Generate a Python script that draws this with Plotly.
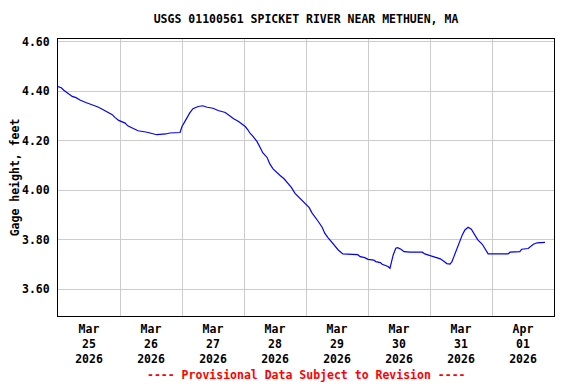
import plotly.graph_objects as go

times = [
    "2026-03-25 00:00", "2026-03-25 01:15", "2026-03-25 02:15", "2026-03-25 04:00",
    "2026-03-25 05:30", "2026-03-25 07:00", "2026-03-25 08:30", "2026-03-25 10:45",
    "2026-03-25 13:30", "2026-03-25 15:30", "2026-03-25 17:30", "2026-03-25 19:00",
    "2026-03-25 21:00", "2026-03-25 22:00", "2026-03-25 23:30", "2026-03-26 02:00",
    "2026-03-26 03:00", "2026-03-26 04:45", "2026-03-26 07:00", "2026-03-26 10:30",
    "2026-03-26 12:30", "2026-03-26 14:15", "2026-03-26 17:45", "2026-03-26 19:15",
    "2026-03-26 23:15", "2026-03-27 00:00", "2026-03-27 01:15", "2026-03-27 02:15",
    "2026-03-27 03:00", "2026-03-27 04:15", "2026-03-27 06:15", "2026-03-27 08:00",
    "2026-03-27 09:45", "2026-03-27 12:00", "2026-03-27 14:00", "2026-03-27 16:45",
    "2026-03-27 18:30", "2026-03-27 20:00", "2026-03-27 21:45", "2026-03-27 23:15",
    "2026-03-28 00:30", "2026-03-28 01:30", "2026-03-28 02:15", "2026-03-28 03:30",
    "2026-03-28 05:00", "2026-03-28 06:15", "2026-03-28 07:15", "2026-03-28 09:00",
    "2026-03-28 10:00", "2026-03-28 11:15", "2026-03-28 12:45", "2026-03-28 14:00",
    "2026-03-28 15:30", "2026-03-28 16:45", "2026-03-28 18:15", "2026-03-28 19:45",
    "2026-03-28 21:45", "2026-03-28 23:30", "2026-03-29 01:15", "2026-03-29 02:15",
    "2026-03-29 03:30", "2026-03-29 04:45", "2026-03-29 06:15", "2026-03-29 07:15",
    "2026-03-29 08:30", "2026-03-29 10:00", "2026-03-29 11:15", "2026-03-29 12:30",
    "2026-03-29 14:15", "2026-03-29 20:00", "2026-03-29 21:00", "2026-03-29 22:45",
    "2026-03-30 00:00", "2026-03-30 02:15", "2026-03-30 03:00", "2026-03-30 04:45",
    "2026-03-30 05:30", "2026-03-30 07:45", "2026-03-30 08:30", "2026-03-30 09:00",
    "2026-03-30 09:45", "2026-03-30 10:45", "2026-03-30 11:30", "2026-03-30 12:45",
    "2026-03-30 14:00", "2026-03-30 16:15", "2026-03-30 21:00", "2026-03-30 22:00",
    "2026-03-31 00:00", "2026-03-31 02:00", "2026-03-31 04:00", "2026-03-31 05:30",
    "2026-03-31 06:30", "2026-03-31 07:45", "2026-03-31 08:30", "2026-03-31 09:15",
    "2026-03-31 10:30", "2026-03-31 11:15", "2026-03-31 12:30", "2026-03-31 13:30",
    "2026-03-31 14:45", "2026-03-31 16:00", "2026-03-31 17:00", "2026-03-31 18:30",
    "2026-03-31 20:15", "2026-03-31 21:15", "2026-03-31 22:30", "2026-04-01 06:15",
    "2026-04-01 07:00", "2026-04-01 10:45", "2026-04-01 11:30", "2026-04-01 14:00",
    "2026-04-01 14:45", "2026-04-01 16:00", "2026-04-01 17:30", "2026-04-01 20:30",
]

gage_height = [
    4.42, 4.415, 4.405, 4.39,
    4.38, 4.375, 4.365, 4.355,
    4.345, 4.337, 4.326, 4.317,
    4.306, 4.295, 4.283, 4.272,
    4.261, 4.252, 4.241, 4.235,
    4.23, 4.225, 4.228, 4.232,
    4.234, 4.258, 4.281, 4.30,
    4.313, 4.33, 4.339, 4.342,
    4.336, 4.332, 4.323, 4.315,
    4.30, 4.29, 4.279, 4.268,
    4.258, 4.245, 4.232, 4.218,
    4.198, 4.173, 4.152, 4.132,
    4.107, 4.087, 4.071, 4.06,
    4.047, 4.032, 4.013, 3.988,
    3.968, 3.95, 3.93, 3.91,
    3.894, 3.874, 3.851, 3.827,
    3.809, 3.789, 3.772, 3.759,
    3.743, 3.74, 3.732, 3.728,
    3.721, 3.718, 3.712, 3.708,
    3.701, 3.692, 3.685, 3.712,
    3.739, 3.766, 3.768, 3.762,
    3.752, 3.75, 3.75, 3.743,
    3.736, 3.73, 3.723, 3.712,
    3.704, 3.702, 3.712, 3.732,
    3.766, 3.793, 3.82, 3.84,
    3.851, 3.843, 3.827, 3.80,
    3.782, 3.766, 3.743, 3.743,
    3.75, 3.752, 3.762, 3.765,
    3.772, 3.782, 3.788, 3.79,
]

label_positions = [
    "2026-03-25 12:00", "2026-03-26 12:00", "2026-03-27 12:00", "2026-03-28 12:00",
    "2026-03-29 12:00", "2026-03-30 12:00", "2026-03-31 12:00", "2026-04-01 12:00",
]
tick_labels = [
    "Mar<br>25<br>2026", "Mar<br>26<br>2026", "Mar<br>27<br>2026", "Mar<br>28<br>2026",
    "Mar<br>29<br>2026", "Mar<br>30<br>2026", "Mar<br>31<br>2026", "Apr<br>01<br>2026",
]
day_boundaries = [
    "2026-03-26 00:00", "2026-03-27 00:00", "2026-03-28 00:00", "2026-03-29 00:00",
    "2026-03-30 00:00", "2026-03-31 00:00", "2026-04-01 00:00",
]
y_ticks = [3.60, 3.80, 4.00, 4.20, 4.40, 4.60]

FONT = "DejaVu Sans Mono"
# the page body adds an 8px offset, so the figure is drawn 8px smaller
W, H = 568, 376

fig = go.Figure()
fig.add_trace(go.Scatter(
    x=times, y=gage_height, mode="lines",
    line=dict(color="#0000ff", width=1.2),
    showlegend=False, hoverinfo="skip",
))

plot_h = 277
fig.update_layout(
    width=W, height=H,
    margin=dict(l=50, r=22, t=31, b=68, autoexpand=False),
    paper_bgcolor="white", plot_bgcolor="white",
    font=dict(family=FONT, size=11, color="black", weight="bold"),
    title=dict(
        text="USGS 01100561 SPICKET RIVER NEAR METHUEN, MA",
        x=298 / W, xanchor="center", y=1 - 11 / H, yanchor="middle",
        font=dict(family=FONT, size=11.5, color="black", weight="bold"),
    ),
    xaxis=dict(
        type="date",
        range=["2026-03-25 00:00", "2026-04-02 00:00"],
        tickmode="array", tickvals=label_positions, ticktext=tick_labels,
        showgrid=False, ticks="", zeroline=False, ticklabelstandoff=2,
        showline=True, linecolor="black", linewidth=1, mirror=True,
        minor=dict(tickmode="array", tickvals=day_boundaries, showgrid=True,
                   gridcolor="#cccccc", gridwidth=1, ticks=""),
        tickfont=dict(family=FONT, size=11.5, color="black", weight="bold"),
    ),
    yaxis=dict(
        range=[3.492, 4.612],
        tickmode="array", tickvals=y_ticks, tickformat=".2f",
        showgrid=True, gridcolor="#cccccc", gridwidth=1,
        ticks="", zeroline=False, ticklabelstandoff=5,
        showline=True, linecolor="black", linewidth=1, mirror=True,
        title=dict(text="Gage height, feet", standoff=4,
                   font=dict(family=FONT, size=11.5, color="black", weight="bold")),
        tickfont=dict(family=FONT, size=11.5, color="black", weight="bold"),
    ),
    annotations=[dict(
        text="---- Provisional Data Subject to Revision ----",
        xref="paper", yref="paper", x=0.5, y=-(367 - 308) / plot_h,
        xanchor="center", yanchor="middle", showarrow=False,
        font=dict(family=FONT, size=11.5, color="#ff0000", weight="bold"),
    )],
)

fig.write_html("out.html")
